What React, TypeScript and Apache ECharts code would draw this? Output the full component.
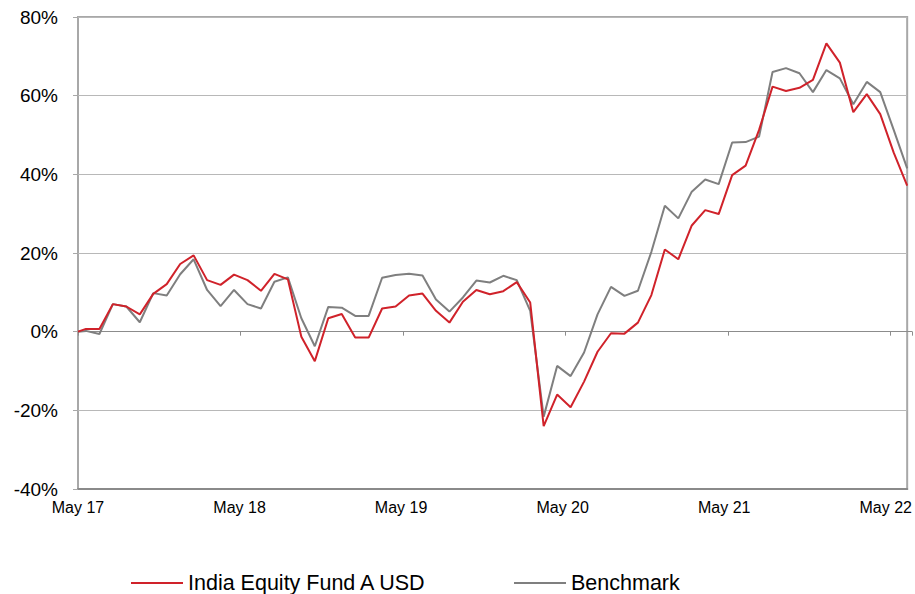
import React, { useEffect, useRef } from "react";
import * as echarts from "echarts";

// Cumulative performance (%), monthly, starting May 2017
const fundName = "India Equity Fund A USD";
const benchName = "Benchmark";
const fund = [
  0, 0.7, 0.7, 7.0, 6.4, 4.4, 9.6, 12.1, 17.2, 19.4,
  13.1, 11.9, 14.5, 13.1, 10.4, 14.7, 13.3, -1.3, -7.5, 3.4,
  4.5, -1.5, -1.5, 5.9, 6.4, 9.2, 9.7, 5.3, 2.3, 7.6,
  10.6, 9.5, 10.3, 12.6, 7.4, -24.0, -16.0, -19.2, -12.7, -5.1,
  -0.4, -0.5, 2.3, 9.3, 20.9, 18.4, 27.0, 30.9, 29.9, 39.8,
  42.2, 51.3, 62.3, 61.2, 62.0, 64.0, 73.3, 68.4, 55.8, 60.4,
  55.3, 45.5, 37.1,
];
const bench = [
  0, 0.2, -0.6, 7.0, 6.4, 2.4, 9.8, 9.2, 14.6, 18.4,
  10.6, 6.5, 10.6, 7.0, 5.9, 12.7, 13.8, 3.4, -3.7, 6.3,
  6.1, 4.0, 4.0, 13.7, 14.4, 14.7, 14.3, 8.2, 5.1, 8.7,
  13.0, 12.5, 14.2, 13.1, 5.3, -21.6, -8.7, -11.3, -5.3, 4.4,
  11.4, 9.1, 10.4, 20.3, 32.0, 28.8, 35.6, 38.7, 37.5, 48.1,
  48.2, 49.6, 66.0, 67.0, 65.7, 60.9, 66.5, 64.4, 57.8, 63.5,
  60.9, 51.3, 41.5,
];
const xTickLabels = ["May 17", "May 18", "May 19", "May 20", "May 21", "May 22"];
const yMin = -40;
const yMax = 80;
const yStep = 20;

// months since May 2017 for each observation (start point, then mid-month points)
const monthPos = fund.map((_, i) => (i === 0 ? 0 : i - 0.41));

const FONT = "'Liberation Sans', Arial, sans-serif";

export default function App() {
  const ref = useRef<HTMLDivElement>(null);
  useEffect(() => {
    if (!ref.current) return;
    const chart = echarts.init(ref.current, null, { renderer: "svg" });
    const gridBox = { left: 78, right: 3, top: 17, bottom: 105 };
    const xMax = monthPos[monthPos.length - 1];
    chart.setOption({
      animation: false,
      textStyle: { fontFamily: FONT },
      grid: [
        { ...gridBox, show: true, borderColor: "#a8a8a8", borderWidth: 2, backgroundColor: "transparent" },
        { ...gridBox, show: false },
      ],
      legend: {
        data: [
          { name: fundName, icon: "rect", itemStyle: { color: "#d0222a" } },
          { name: benchName, icon: "rect", itemStyle: { color: "#7f7f7f" } },
        ],
        left: 131,
        top: 572,
        padding: 0,
        itemWidth: 52,
        itemHeight: 2,
        itemGap: 87,
        textStyle: { fontSize: 21.5, color: "#000", fontFamily: FONT, lineHeight: 22 },
      },
      xAxis: [
        {
          type: "value",
          gridIndex: 0,
          min: 0,
          max: xMax,
          interval: 12,
          position: "bottom",
          axisLine: { onZero: false, lineStyle: { color: "#8a8a8a", width: 2 } },
          axisTick: { show: false },
          splitLine: { show: false },
          axisLabel: {
            fontSize: 16,
            color: "#000",
            margin: 10,
            showMaxLabel: false,
            formatter: (v: number) =>
              Math.abs(v % 12) < 1e-6 ? xTickLabels[Math.round(v / 12)] ?? "" : "",
          },
        },
        {
          type: "value",
          gridIndex: 1,
          min: 0,
          max: xMax,
          interval: 12,
          position: "bottom",
          axisLine: { onZero: true, lineStyle: { color: "#8c8c8c", width: 1 } },
          axisTick: { show: true, length: 4, lineStyle: { color: "#8c8c8c" } },
          axisLabel: { show: false },
          splitLine: { show: false },
        },
      ],
      yAxis: [
        {
          type: "value",
          gridIndex: 0,
          min: yMin,
          max: yMax,
          interval: yStep,
          axisLine: { show: false },
          axisTick: { show: true, length: 5, lineStyle: { color: "#a8a8a8" } },
          splitLine: { lineStyle: { color: "#b8b8b8", width: 1 } },
          axisLabel: {
            fontSize: 19,
            color: "#000",
            margin: 20,
            formatter: (v: number) => `${v}%`,
          },
        },
        {
          type: "value",
          gridIndex: 1,
          min: yMin,
          max: yMax,
          interval: yStep,
          show: false,
          splitLine: { show: false },
        },
      ],
      series: [
        {
          name: benchName,
          type: "line",
          xAxisIndex: 0,
          yAxisIndex: 0,
          symbol: "none",
          data: bench.map((v, i) => [monthPos[i], v]),
          lineStyle: { color: "#7f7f7f", width: 2 },
          itemStyle: { color: "#7f7f7f" },
          z: 3,
        },
        {
          name: fundName,
          type: "line",
          xAxisIndex: 0,
          yAxisIndex: 0,
          symbol: "none",
          data: fund.map((v, i) => [monthPos[i], v]),
          lineStyle: { color: "#d0222a", width: 2 },
          itemStyle: { color: "#d0222a" },
          z: 4,
        },
      ],
    });
    return () => chart.dispose();
  }, []);
  return (
    <div
      ref={ref}
      style={{ position: "fixed", left: 0, top: 0, width: 915, height: 594, background: "#fff" }}
    />
  );
}
